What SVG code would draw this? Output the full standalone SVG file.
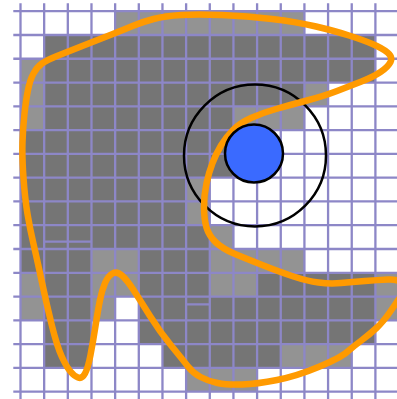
<svg xmlns="http://www.w3.org/2000/svg" width="397" height="399" viewBox="0 0 397 399">
<style>
.d{fill:#757575}
.l{fill:#939393}
.grid{stroke:#8d87c7;stroke-width:2.3;fill:none}
</style>
<rect width="397" height="399" fill="#ffffff"/>
<g id="cells">
<rect class="l" x="115.1" y="11.2" width="189.3" height="23.8"/>
<rect class="d" x="44.2" y="35" width="331.2" height="23.8"/>
<rect class="l" x="20.5" y="58.8" width="23.7" height="23.8"/>
<rect class="d" x="44.2" y="58.8" width="331.2" height="23.8"/>
<rect class="l" x="20.5" y="82.5" width="23.7" height="23.8"/>
<rect class="d" x="44.2" y="82.5" width="260.2" height="23.8"/>
<rect class="l" x="304.4" y="82.5" width="23.7" height="23.8"/>
<rect class="l" x="20.5" y="106.3" width="23.7" height="23.8"/>
<rect class="d" x="44.2" y="106.3" width="189.2" height="23.8"/>
<rect class="l" x="233.4" y="106.3" width="71" height="23.8"/>
<rect class="d" x="20.5" y="130.1" width="236.6" height="47.6"/>
<rect class="d" x="20.5" y="177.7" width="165.6" height="47.5"/>
<rect class="l" x="186.1" y="177.7" width="23.7" height="47.5"/>
<rect class="d" x="20.5" y="225.2" width="189.3" height="23.8"/>
<rect class="l" x="209.8" y="225.2" width="23.7" height="23.8"/>
<rect class="d" x="20.5" y="249" width="71" height="23.8"/>
<rect class="l" x="91.5" y="249" width="47.3" height="23.8"/>
<rect class="d" x="138.8" y="249" width="71" height="23.8"/>
<rect class="l" x="209.8" y="249" width="94.6" height="23.8"/>
<rect class="l" x="20.5" y="272.8" width="23.7" height="47.6"/>
<rect class="d" x="44.2" y="272.8" width="47.3" height="95.1"/>
<rect class="l" x="91.5" y="272.8" width="47.3" height="23.8"/>
<rect class="d" x="138.8" y="272.8" width="71" height="23.8"/>
<rect class="l" x="209.8" y="272.8" width="47.3" height="23.8"/>
<rect class="d" x="257.1" y="272.8" width="118.3" height="23.8"/>
<rect class="l" x="375.4" y="272.8" width="24" height="47.6"/>
<rect class="l" x="91.5" y="296.6" width="23.7" height="23.8"/>
<rect class="d" x="138.8" y="296.6" width="236.6" height="47.6"/>
<rect class="d" x="162.5" y="344.1" width="118.3" height="23.8"/>
<rect class="l" x="280.8" y="344.1" width="70.9" height="23.8"/>
<rect class="l" x="186.1" y="367.9" width="71" height="23.8"/>
</g>
<g id="grid" class="grid">
<path d="M20.5,3.3V399M44.16,3.3V399M67.82,3.3V399M91.48,3.3V399M115.14,3.3V399M138.8,3.3V399M162.46,3.3V399M186.12,3.3V399M209.78,3.3V399M233.44,3.3V399M257.1,3.3V399M280.76,3.3V399M304.42,3.3V399M328.08,3.3V399M351.74,3.3V399M375.4,3.3V399"/>
<path d="M13.3,11.2H397M13.3,34.98H397M13.3,58.76H397M13.3,82.54H397M13.3,106.32H397M13.3,130.1H397M13.3,153.88H397M13.3,177.66H397M13.3,201.44H397M13.3,225.22H397M13.3,249H397M13.3,272.78H397M13.3,296.56H397M13.3,320.34H397M13.3,344.12H397M13.3,367.9H397M13.3,391.68H397"/>
<path d="M44.2,241.7H91.5M186.1,304.3H209.8"/>
</g>
<circle id="outer-circle" cx="255" cy="155.5" r="71" fill="none" stroke="#000" stroke-width="2.5"/>
<path id="boundary" fill="none" stroke="#ff9a00" stroke-width="6.5" stroke-linejoin="round" d="M 28,90 Q 30,80 33.5,73.5 Q 37,67 42,63.5 Q 47,60 57,56 Q 67,52 81,46.5 Q 95,41 109,35.5 Q 123,30 132.5,26 Q 142,22 153.5,19 Q 165,16 181,15 Q 197,14 222,15 Q 247,16 272,19 Q 297,22 316,26.5 Q 335,31 349,35.5 Q 363,40 372.5,44 Q 382,48 387.5,52.5 Q 393,57 390.5,62 Q 388,67 380.5,72 Q 373,77 361.5,81.5 Q 350,86 337,91 Q 324,96 307,100.5 Q 290,105 276,109 Q 262,113 251,118 Q 240,123 233,130 Q 226,137 221,145.5 Q 216,154 212.5,163 Q 209,172 206.5,183.5 Q 204,195 204,207 Q 204,219 206.5,227.5 Q 209,236 216,242.5 Q 223,249 235,254 Q 247,259 263.5,265.5 Q 280,272 293.5,276.5 Q 307,281 318.5,282.5 Q 330,284 341,283 Q 352,282 365,281 Q 378,280 388,279.5 Q 398,279 402,283.5 Q 406,288 401.5,295 Q 397,302 390,312 Q 383,322 376.5,328 Q 370,334 362,340 Q 354,346 347,352 Q 340,358 318.5,367 Q 297,376 277,380 Q 257,384 242,384.5 Q 227,385 217.5,383 Q 208,381 200.5,377 Q 193,373 188,366.5 Q 183,360 171.5,346 Q 160,332 150,316 Q 140,300 133.5,290 Q 127,280 122,275.5 Q 117,271 112.5,273.5 Q 108,276 105,283 Q 102,290 100,300 Q 98,310 95.5,326 Q 93,342 90.5,355 Q 88,368 85,373.5 Q 82,379 78,377.5 Q 74,376 70,371 Q 66,366 61.5,356 Q 57,346 52,326 Q 47,306 42,282.5 Q 37,259 33.5,244 Q 30,229 27.5,214 Q 25,199 23.5,178 Q 22,157 22.5,142 Q 23,127 24.5,113.5 Q 26,100 28,90 Z"/>
<circle id="blue-disc" cx="254" cy="153.5" r="29" fill="#3a6aff" stroke="#000" stroke-width="2.5"/>
</svg>
